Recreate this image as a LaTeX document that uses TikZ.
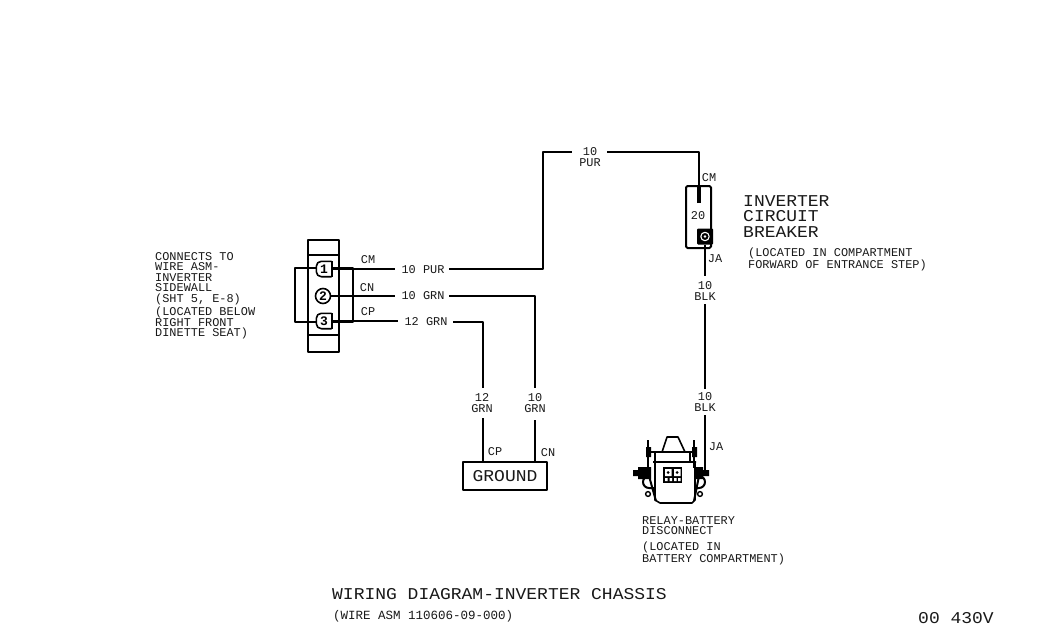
\documentclass[tikz,border=0pt]{standalone}
\usepackage{fontspec}
\setmainfont{Liberation Mono}
\newfontfamily\widemono[FakeStretch=1.09]{Liberation Mono}
\newcommand{\smalltxt}{\fontsize{11.9}{10.5}\selectfont}
\newcommand{\bigtxt}{\widemono\fontsize{16.5}{15.5}\selectfont}
\tikzset{
  wire/.style={line width=2.5pt},
  part/.style={line width=2pt},
  lbl/.style={inner sep=0pt,font=\smalltxt,text=black!90},
  lblL/.style={lbl,align=left,anchor=north west},
  big/.style={inner sep=0pt,font=\bigtxt,text=black!90},
  pinmark/.style={inner sep=0pt,font=\bfseries\fontsize{13}{13}\selectfont}
}
\begin{document}
\begin{tikzpicture}[x=1pt,y=-1pt,line join=round]
\useasboundingbox (0,0) rectangle (1057,635);
% connector
\node[draw,part,minimum width=31pt,minimum height=112pt,inner sep=0pt] (conn) at (323.5,296) {};
\draw[part] (308,255) -- (339,255) (308,335) -- (339,335);
\node[pinmark,circle,draw,line width=1.6pt,minimum size=15pt] (p2) at (323,296) {2};
\node[pinmark,minimum size=15pt] (p1) at (324,269) {1};
\node[pinmark,minimum size=15pt] (p3) at (324,321) {3};
\draw[line width=1.6pt,rounded corners=5pt] (p1.north east) -- (p1.north west) -- (p1.south west) -- (p1.south east);
\draw[line width=1.6pt] (p1.north east) -- (p1.south east);
\draw[line width=1.6pt,rounded corners=5pt] (p3.north east) -- (p3.north west) -- (p3.south west) -- (p3.south east);
\draw[line width=1.6pt] (p3.north east) -- (p3.south east);
\coordinate (lb1) at (295,268);
\coordinate (lb2) at (295,322);
\coordinate (rb1) at (352.5,268);
\coordinate (rb2) at (352.5,322);
\draw[part] (p1.north west |- lb1) -- (lb1) -- (lb2) -- (p3.south west |- lb2);
\draw[part] (p1.east |- rb1) -- (rb1) -- (rb2) -- (p3.east |- rb2);
% wire labels
\node[lbl] (l1) at (423,270) {10 PUR};
\node[lbl] (l2) at (423,296) {10 GRN};
\node[lbl] (l3) at (426,322) {12 GRN};
\node[lbl,align=center] (top) at (590,157) {10\\PUR};
\node[lbl,align=center] (v12) at (482,403) {12\\GRN};
\node[lbl,align=center] (v10) at (535,403) {10\\GRN};
\node[lbl,align=center] (b1) at (705,291) {10\\BLK};
\node[lbl,align=center] (b2) at (705,402) {10\\BLK};
\node[lbl] at (368,260) {CM};
\node[lbl] at (367,288) {CN};
\node[lbl] at (368,312) {CP};
\node[lbl] at (709,178) {CM};
\node[lbl] at (715,259) {JA};
\node[lbl] at (716,447) {JA};
\node[lbl] at (495,452) {CP};
\node[lbl] at (548,453) {CN};
\node[lbl] at (698,216) {20};
% ground
\node[draw,part,minimum width=84pt,minimum height=28pt,inner sep=0pt,font=\bigtxt,text=black!90] (gnd) at (505,476) {GROUND};
% breaker
\node[draw,part,minimum width=25pt,minimum height=62pt,inner sep=0pt,rounded corners=1.5pt] (brk) at (698.5,217) {};
\node[fill=black,minimum size=16pt,inner sep=0pt,rounded corners=1pt] (term) at (705,236.5) {};
\draw[white,line width=1.1pt] (705,236.5) circle (4.2pt);
\fill[white] (705,236.5) circle (1.3pt);
\coordinate (brktop) at (699,203);
\draw[line width=3.5pt] (brktop) -- (699,186);
% wires
\draw[wire] (p1.east) -- (395,269);
\draw[wire] (449,269) -- (543,269) -- (543,152) -- (572,152);
\draw[wire] (607,152) -- (699,152) -- (brk.north -| brktop);
\draw[wire] (p2.east) -- (395,296);
\draw[wire] (449,296) -- (535,296) -- (535,388);
\draw[wire] (535,420) -- (535,462);
\draw[wire] (p3.east) -- (398,321);
\draw[wire] (453,322) -- (483,322) -- (483,388);
\draw[wire] (483,418) -- (483,462);
\draw[wire] (term.south) -- (705,276);
\draw[wire] (705,304) -- (705,389);
\draw[wire] (705,415) -- (705,470);
% relay
\begin{scope}[line width=1.6pt]
 % dome
 \draw (662,452) -- (667,437) -- (678,437) -- (685,452);
 % shoulder
 \draw[line width=2pt] (650,452) -- (694,452);
 \draw (655,452) -- (655,462) (690,452) -- (690,462);
 % body
 \draw (653,462) -- (696,462) (655,462) -- (655,500) -- (660,503) -- (692,503) -- (695,500) -- (695,462);
 % posts
 \draw[line width=2.4pt] (648,440) -- (648,468) (694,440) -- (694,468);
 \fill[black] (646,447) rectangle (651,457) (692,447) rectangle (697,457);
 % side nuts
 \fill[black] (638,467) rectangle (651,479) (695,467) rectangle (703,479);
 \fill[black] (633,470) rectangle (639,476) (703,470) rectangle (709,476);
 % feet
 \draw[line width=2pt] (655,488) -- (649,488) arc (90:270:6) -- (656,501);
 \draw[line width=2pt] (695,488) -- (699,488) arc (90:-90:6) -- (694,501);
 \draw[line width=1.4pt] (648,494) circle (2.4pt) (700,494) circle (2.4pt);
 % window
 \fill[black] (663,467) rectangle (682,483);
 \fill[white] (665,469) rectangle (671.5,476) (674,469) rectangle (680.5,476);
 \fill[black] (668.2,472.5) circle (1.5pt) (677.2,472.5) circle (1.5pt);
 \fill[white] (665,478) rectangle (667.5,481) (669.5,478) rectangle (672,481) (674,478) rectangle (676.5,481) (678,478) rectangle (680.5,481);
\end{scope}
% free text
\node[lblL] at (155,252) {CONNECTS TO\\WIRE ASM-\\INVERTER\\SIDEWALL\\(SHT 5, E-8)};
\node[lblL] at (155,307) {(LOCATED BELOW\\RIGHT FRONT\\DINETTE SEAT)};
\node[big,align=left,anchor=north west] at (743,195) {INVERTER\\CIRCUIT\\BREAKER};
\node[lblL] at (748,248) {(LOCATED IN COMPARTMENT\\FORWARD OF ENTRANCE STEP)};
\node[lblL] at (642,516) {RELAY-BATTERY\\DISCONNECT};
\node[lblL] at (642,542) {(LOCATED IN\\BATTERY COMPARTMENT)};
\node[big,anchor=west] at (332,594) {WIRING DIAGRAM-INVERTER CHASSIS};
\node[lbl,anchor=west,font=\fontsize{12.5}{12.5}\selectfont] at (333,616) {(WIRE ASM 110606-09-000)};
\node[big,anchor=west] at (918,618) {00 430V};
\end{tikzpicture}
\end{document}
